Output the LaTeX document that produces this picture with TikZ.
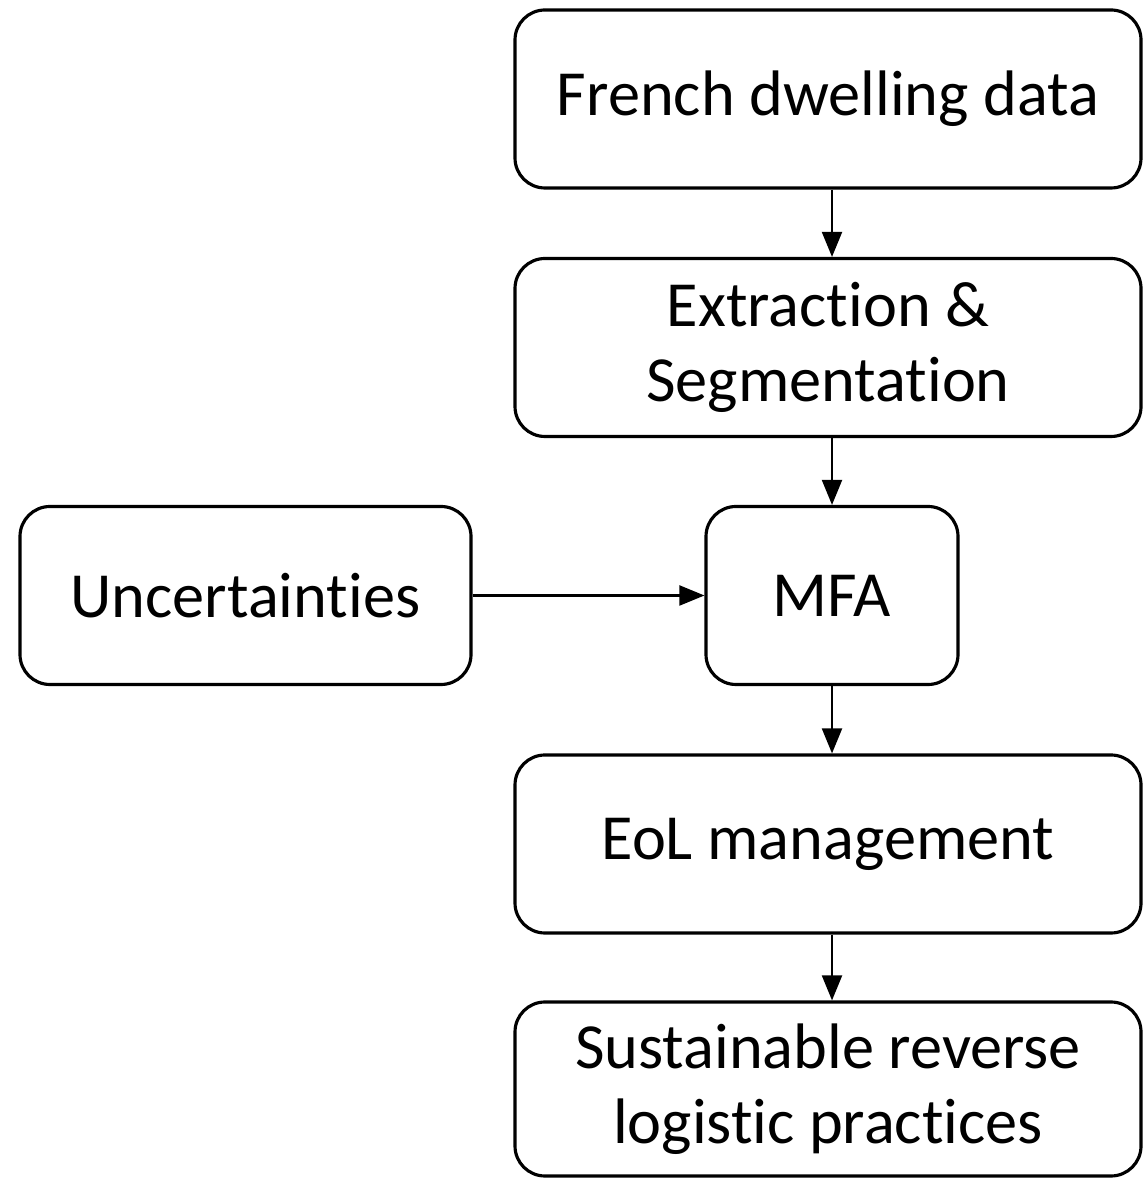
\documentclass[tikz,border=0pt]{standalone}
\usepackage{fontspec}
\setmainfont{Carlito}[Ligatures=NoCommon]
\usetikzlibrary{arrows.meta}

\begin{document}
\begin{tikzpicture}
	\tikzset{block/.style={draw,rounded corners=0.3cm,line width=0.9pt,inner sep=0pt,align=center,font=\fontsize{18.3}{21.5}\selectfont}}
	\tikzset{edge/.style={-{Triangle[length=0.25cm,width=0.2cm]},line width=0.6pt}}
	\useasboundingbox (0,0) rectangle (11.43,11.78);
	
	\node(dwelling) at (8.28,10.79) [block,minimum width=6.26cm,minimum height=1.78cm] {French dwelling data};
	\node(extract) at (8.28,8.305) [block,minimum width=6.26cm,minimum height=1.78cm] {Extraction \&\\Segmentation};
	\node(mfa) at (8.32,5.825) [block,minimum width=2.52cm,minimum height=1.78cm] {MFA};
	\node(uncert) at (2.455,5.825) [block,minimum width=4.51cm,minimum height=1.78cm] {Uncertainties};
	\node(eol) at (8.28,3.34) [block,minimum width=6.26cm,minimum height=1.78cm] {EoL management};
	\node(practices) at (8.28,0.89) [block,minimum width=6.26cm,minimum height=1.74cm] {Sustainable reverse\\logistic practices};
	
	\draw[edge] (dwelling.south -| mfa) -- (extract.north -| mfa);
	\draw[edge] (extract.south -| mfa) -- (mfa);
	\draw[edge] (uncert) -- (mfa);
	\draw[edge] (mfa) -- (eol.north -| mfa);
	\draw[edge] (eol.south -| mfa) -- (practices.north -| mfa);
	
\end{tikzpicture}
\end{document}
